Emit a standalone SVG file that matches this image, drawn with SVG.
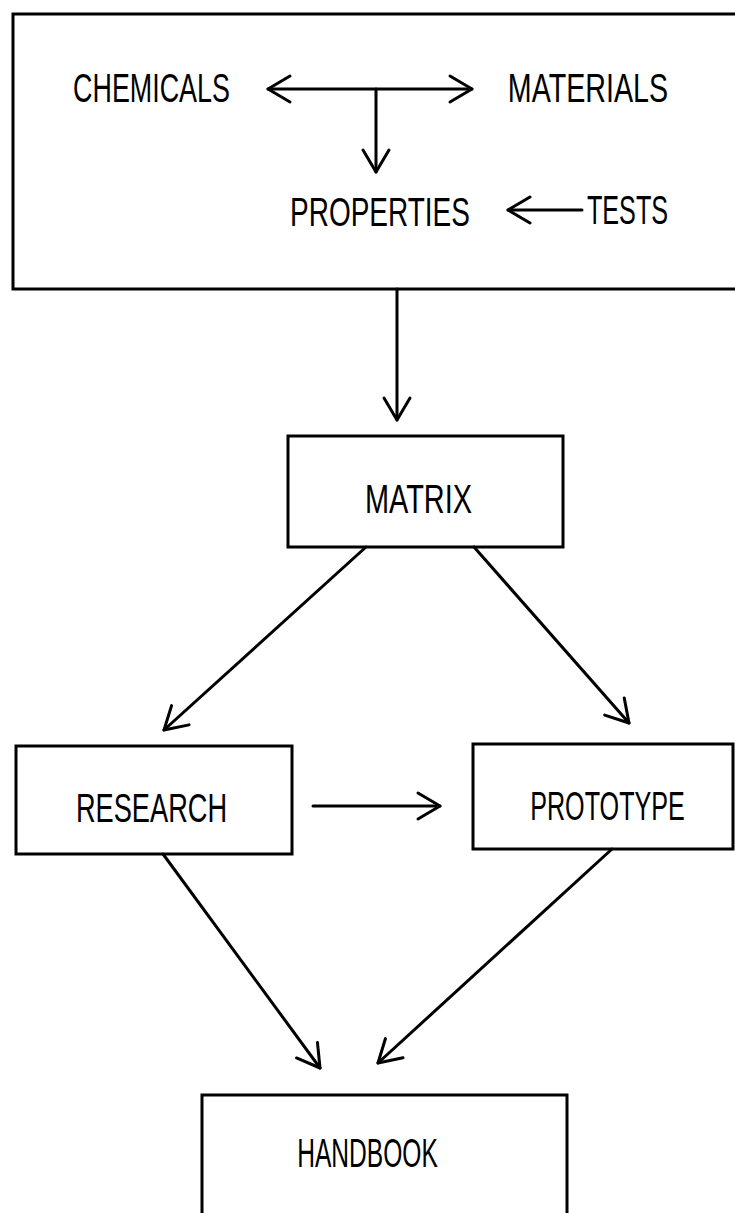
<svg xmlns="http://www.w3.org/2000/svg" width="735" height="1213" viewBox="0 0 735 1213">
<style>
  .box { fill: none; stroke: #000; stroke-width: 3; }
  .lbl { font-family: "Liberation Sans", Arial, sans-serif; font-size: 40px; fill: #000; text-anchor: middle; }
  .conn { fill: none; stroke: #000; stroke-width: 3; stroke-linecap: round; }
</style>
<defs>
  <marker id="vhead" markerUnits="userSpaceOnUse" viewBox="-26 -16 30 32" markerWidth="30" markerHeight="32" refX="0" refY="0" orient="auto-start-reverse">
    <path d="M-22,-13 L0,0 L-22,13" fill="none" stroke="#000" stroke-width="3" stroke-linecap="round" stroke-linejoin="round"/>
  </marker>
</defs>
<rect width="735" height="1213" fill="#fff"/>
<g id="system">
  <rect class="box" x="13" y="14" width="740" height="275"/>
  <text class="lbl" transform="translate(151.5,102) scale(0.7,1)" textLength="224" lengthAdjust="spacingAndGlyphs">CHEMICALS</text>
  <text class="lbl" transform="translate(588,102) scale(0.7,1)" textLength="229" lengthAdjust="spacingAndGlyphs">MATERIALS</text>
  <text class="lbl" transform="translate(380,226) scale(0.7,1)" textLength="257" lengthAdjust="spacingAndGlyphs">PROPERTIES</text>
  <text class="lbl" transform="translate(627.5,224) scale(0.7,1)" textLength="116" lengthAdjust="spacingAndGlyphs">TESTS</text>
</g>
<g id="matrix">
  <rect class="box" x="288" y="436" width="275" height="111"/>
  <text class="lbl" transform="translate(418.5,513) scale(0.7,1)" textLength="153" lengthAdjust="spacingAndGlyphs">MATRIX</text>
</g>
<g id="research">
  <rect class="box" x="16" y="746" width="276" height="108"/>
  <text class="lbl" transform="translate(151.5,822) scale(0.7,1)" textLength="216" lengthAdjust="spacingAndGlyphs">RESEARCH</text>
</g>
<g id="prototype">
  <rect class="box" x="473" y="744" width="260" height="105"/>
  <text class="lbl" transform="translate(607.5,820) scale(0.7,1)" textLength="221" lengthAdjust="spacingAndGlyphs">PROTOTYPE</text>
</g>
<g id="handbook">
  <rect class="box" x="202" y="1095" width="365" height="150"/>
  <text class="lbl" transform="translate(367.5,1167) scale(0.7,1)" textLength="201" lengthAdjust="spacingAndGlyphs">HANDBOOK</text>
</g>
<g id="connectors">
  <line class="conn" x1="268" y1="89" x2="472" y2="89" marker-start="url(#vhead)" marker-end="url(#vhead)"/>
  <line class="conn" x1="376" y1="89" x2="376" y2="172" marker-end="url(#vhead)"/>
  <line class="conn" x1="582" y1="210" x2="508" y2="210" marker-end="url(#vhead)"/>
  <line class="conn" x1="397" y1="289" x2="397" y2="420" marker-end="url(#vhead)"/>
  <line class="conn" x1="366" y1="547" x2="164" y2="730" marker-end="url(#vhead)"/>
  <line class="conn" x1="474" y1="547" x2="629" y2="723" marker-end="url(#vhead)"/>
  <line class="conn" x1="313" y1="806" x2="440" y2="806" marker-end="url(#vhead)"/>
  <line class="conn" x1="163" y1="854" x2="320" y2="1068" marker-end="url(#vhead)"/>
  <line class="conn" x1="612" y1="849" x2="378" y2="1063" marker-end="url(#vhead)"/>
</g>
</svg>
